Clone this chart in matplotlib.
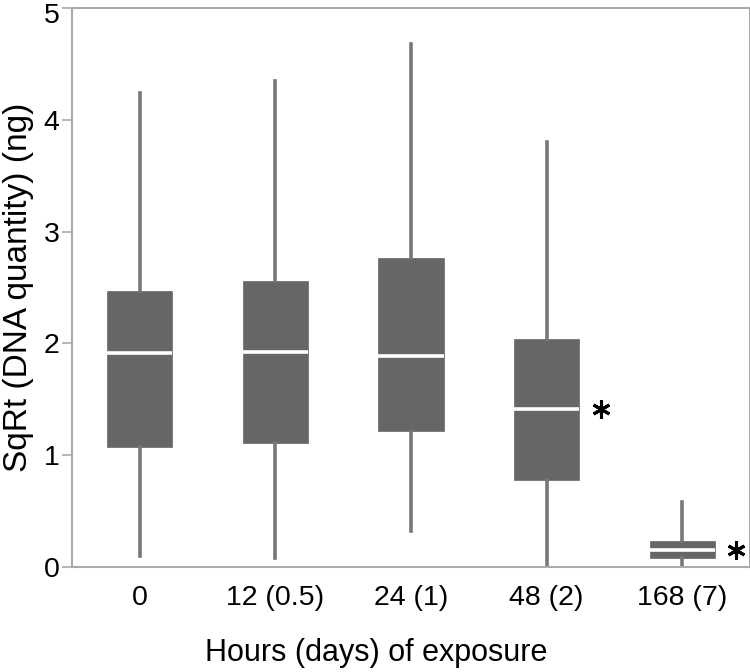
import matplotlib
matplotlib.use("Agg")
import matplotlib.pyplot as plt
import matplotlib.transforms as mtransforms

plt.rcParams['font.family'] = ['Liberation Sans', 'DejaVu Sans']

labels = ['0', '12 (0.5)', '24 (1)', '48 (2)', '168 (7)']
whislo = [0.10, 0.08, 0.32, 0.00, 0.00]
q1 = [1.07, 1.11, 1.22, 0.78, 0.08]
med = [1.91, 1.92, 1.89, 1.41, 0.15]
q3 = [2.47, 2.56, 2.76, 2.04, 0.23]
whishi = [4.24, 4.35, 4.68, 3.80, 0.58]
signif = [False, False, False, True, True]

stats = []
for i in range(len(labels)):
    stats.append(dict(label=labels[i], whislo=whislo[i], q1=q1[i], med=med[i],
                      q3=q3[i], whishi=whishi[i], fliers=[]))

fig = plt.figure(figsize=(7.5, 6.72), dpi=100)
ax = fig.add_axes([72/750, 1 - 567/672, 678/750, 559/672])

ax.bxp(stats, positions=range(1, 6), widths=0.48, patch_artist=True, showcaps=False,
       boxprops=dict(facecolor='#666666', edgecolor='#666666', linewidth=0.5),
       whiskerprops=dict(color='#777777', linewidth=2.6),
       medianprops=dict(color='white', linewidth=2.6))

# significance stars next to the medians
for i in range(len(labels)):
    if signif[i]:
        ax.plot(i + 1 + 0.4, med[i], marker=(6, 2, 0), markersize=13,
                markeredgewidth=2.2, color='black', clip_on=False)

ax.set_xlim(0.5, 5.5)
ax.set_ylim(0, 5)
ax.set_yticks([0, 1, 2, 3, 4, 5])
ax.tick_params(axis='y', labelsize=20.5, length=7, width=1.2, color='#aaaaaa', pad=2)
ax.tick_params(axis='x', labelsize=20.5, length=0, pad=13)
for s in ax.spines.values():
    s.set_color('#aaaaaa')
    s.set_linewidth(1.5)

# top label sits a little lower in the reference
top = ax.get_yticklabels()[-1]
top.set_transform(top.get_transform() + mtransforms.ScaledTranslation(0, -5/100, fig.dpi_scale_trans))

ax.set_ylabel('SqRt (DNA quantity) (ng)', fontsize=24)
ax.yaxis.set_label_coords(-53/678, 0.5)
ax.set_xlabel('Hours (days) of exposure', fontsize=22)
ax.xaxis.set_label_coords((376 - 72)/678, -(653 - 567)/559)
ax.xaxis.label.set_va('center')
ax.yaxis.label.set_va('center')

fig.savefig('out.png', dpi=100)
